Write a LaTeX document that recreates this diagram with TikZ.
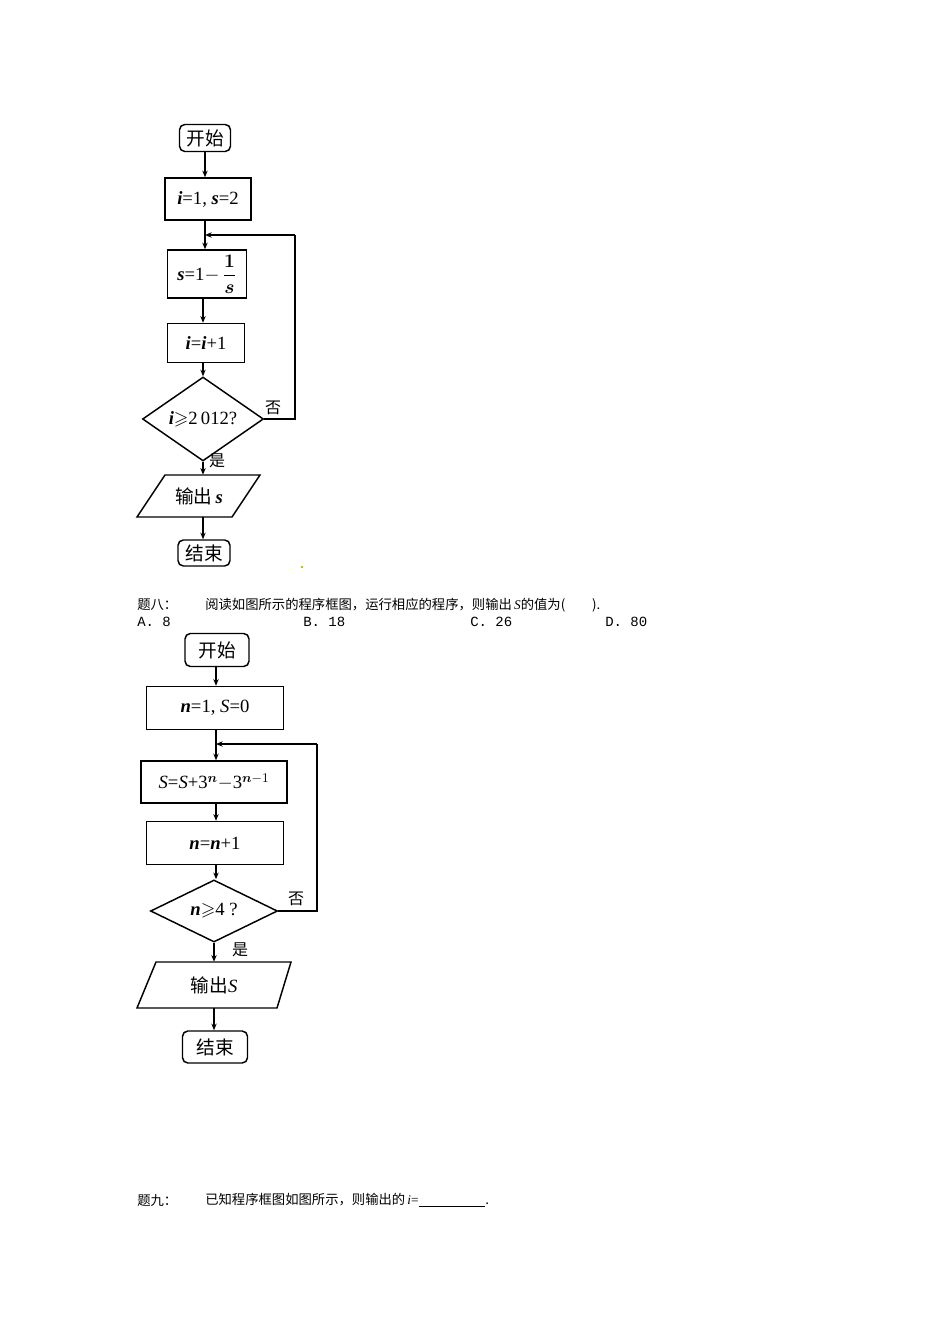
\documentclass[tikz,border=0pt]{standalone}
\usepackage{amsmath,amssymb}
\usepackage{fontspec}
\setmainfont{Liberation Serif}
\newfontfamily\cj{Noto Sans CJK SC}
\newfontfamily\mono{Liberation Mono}
\usetikzlibrary{shapes.geometric,arrows.meta}
\begin{document}
\begin{tikzpicture}[x=0.75pt,y=-0.75pt,
  bx/.style={draw,line width=1.1pt,inner sep=0pt,font=\fontsize{14}{16}\selectfont},
  term/.style={bx,rounded corners=4pt},
  dia/.style={bx,diamond},
  pt/.style={inner sep=0pt,font=\fontsize{14}{16}\selectfont},
  pg/.style={line width=1.1pt},
  ar/.style={line width=0.9pt,-{Stealth[length=5pt,width=4pt]}},
  ln/.style={line width=0.9pt},
  lab/.style={font=\cj\fontsize{12}{14}\selectfont,inner sep=0pt},
  txt/.style={anchor=west,inner sep=0pt,font=\cj\fontsize{10}{12}\selectfont}]
\useasboundingbox (0,0) rectangle (950,1344);
\def\v#1{\textbf{\textit{#1}}}
% chart 1
\node[term,minimum width=0.75*51pt,minimum height=0.75*27pt,font=\cj\fontsize{14}{16}\selectfont] (a0) at (205,138) {开始};
\node[bx,minimum width=0.75*86pt,minimum height=0.75*42pt] (a1) at (208,199) {\v{i}=1, \v{s}=2};
\node[bx,minimum width=0.75*79pt,minimum height=0.75*48pt] (a2) at (207,274) {\v{s}=1$-$\,$\dfrac{\boldsymbol{1}}{\boldsymbol{s}}$};
\node[bx,minimum width=0.75*77pt,minimum height=0.75*39pt] (a3) at (206,343) {\v{i}=\v{i}+1};
\node[dia,minimum width=0.75*121pt,minimum height=0.75*62pt] (a4) at (203,419) {\v{i}$\geqslant$2\,012?};
\draw[pg] (137,517) -- (232,517) -- (260,475) -- (165,475) -- cycle;
\node[pt,minimum height=0.75*42pt] (a5) at (199,496) {{\cj 输出}\,\v{s}};
\node[term,minimum width=0.75*52pt,minimum height=0.75*26pt,font=\cj\fontsize{14}{16}\selectfont] (a6) at (204,553) {结束};
\coordinate (aj) at (205,235);
\coordinate (ar) at (295,419);
\coordinate (at) at (295,235);
\draw[ar] (a0) -- (a0|-a1.north);
\draw[ln] (a1.south-|aj) -- (aj);
\draw[ar] (aj) -- (aj|-a2.north);
\draw[ar] (a2.south-|a4.north) -- (a4.north|-a3.north);
\draw[ar] (a3.south-|a4.north) -- (a4.north);
\draw[ar] (a4.south) -- (a4.south|-a5.north);
\draw[ar] (a4.south|-a5.south) -- (a4.south|-a6.north);
\draw[ln] (a4.east) -- (ar) -- (at);
\draw[ar] (at) -- (aj);
\node[lab] (n1) at (273,408) {否};
\node[lab] (y1) at (217,461) {是};
\fill[yellow!50!olive] (301,566) rectangle (303,568);
% text
\node[txt] (t1) at (137,605) {题八：};
\node[txt] (t2) at (205,605) {阅读如图所示的程序框图，运行相应的程序，则输出\,{\rmfamily\itshape S}的值为(　　).};
\node[txt,font=\mono\fontsize{10.5}{12}\selectfont] (o1) at (137,622) {A. 8};
\node[txt,font=\mono\fontsize{10.5}{12}\selectfont] (o2) at (303,622) {B. 18};
\node[txt,font=\mono\fontsize{10.5}{12}\selectfont] (o3) at (470,622) {C. 26};
\node[txt,font=\mono\fontsize{10.5}{12}\selectfont] (o4) at (605,622) {D. 80};
% chart 2
\node[term,minimum width=0.75*64pt,minimum height=0.75*33pt,font=\cj\fontsize{14}{16}\selectfont] (b0) at (217,650) {开始};
\node[bx,minimum width=0.75*137pt,minimum height=0.75*43pt] (b1) at (215,708) {\v{n}=1, \textit{S}=0};
\node[bx,minimum width=0.75*146pt,minimum height=0.75*42pt] (b2) at (214,782) {\textit{S}=\textit{S}+3$^{\boldsymbol{n}}$$-$3$^{\boldsymbol{n}-1}$};
\node[bx,minimum width=0.75*137pt,minimum height=0.75*43pt] (b3) at (215,843) {\v{n}=\v{n}+1};
\node[dia,minimum width=0.75*127pt,minimum height=0.75*47pt] (b4) at (214,911) {\v{n}$\geqslant$4 ?};
\draw[pg] (137,1008) -- (277,1008) -- (291,962) -- (156,962) -- cycle;
\node[pt,minimum height=0.75*46pt] (b5) at (214,985) {{\cj 输出}\textit{S}};
\node[term,minimum width=0.75*65pt,minimum height=0.75*32pt,font=\cj\fontsize{14}{16}\selectfont] (b6) at (215,1047) {结束};
\coordinate (bj) at (216,744);
\coordinate (br) at (317,911);
\coordinate (bt) at (317,744);
\draw[ar] (b0.south-|bj) -- (bj|-b1.north);
\draw[ln] (b1.south-|bj) -- (bj);
\draw[ar] (bj) -- (bj|-b2.north);
\draw[ar] (b2.south-|bj) -- (bj|-b3.north);
\draw[ar] (b3.south-|bj) -- (bj|-b4.north);
\draw[ar] (b4.south) -- (b4.south|-b5.north);
\draw[ar] (b4.south|-b5.south) -- (b4.south|-b6.north);
\draw[ln] (b4.east) -- (br) -- (bt);
\draw[ar] (bt) -- (bj);
\node[lab] (n2) at (296,899) {否};
\node[lab] (y2) at (240,950) {是};
% bottom
\node[txt] (t3) at (137,1200) {题九：};
\node[txt] (t4) at (205,1200) {已知程序框图如图所示，则输出的\,{\rmfamily\itshape i}{\rmfamily =}\rule[-2pt]{50pt}{0.5pt}.};
\end{tikzpicture}
\end{document}
